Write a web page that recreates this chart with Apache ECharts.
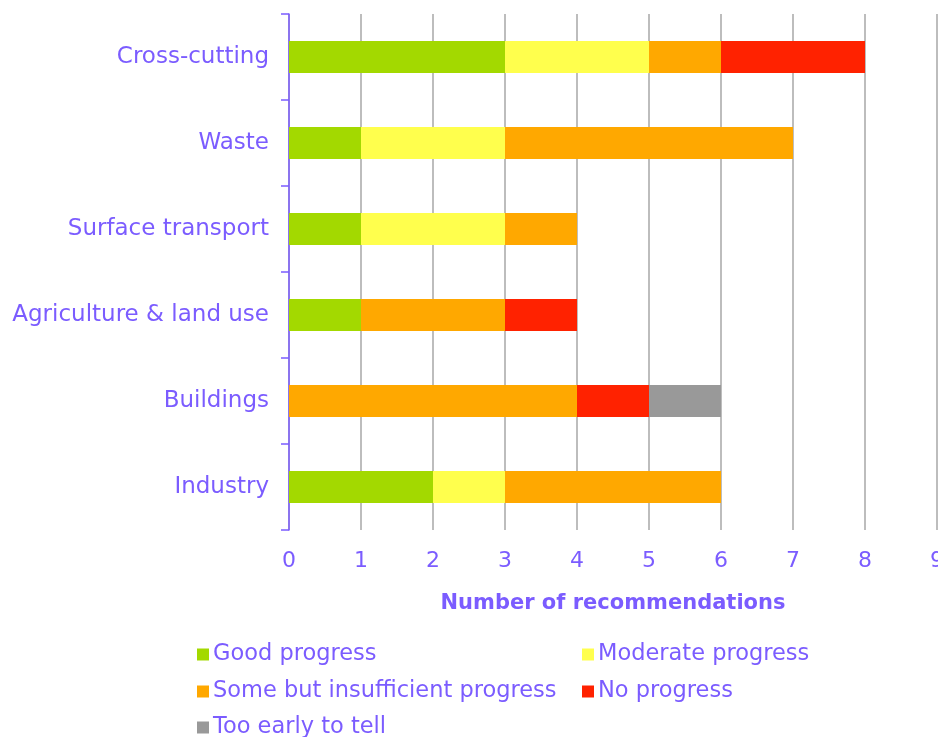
<!DOCTYPE html>
<html>
<head>
<meta charset="utf-8">
<script src="https://cdn.jsdelivr.net/npm/echarts@6/dist/echarts.min.js"></script>
<style>
  html, body { margin: 0; padding: 0; background: #fff; overflow: hidden; }
  #main { width: 938px; height: 737px; }
</style>
</head>
<body>
<div id="main"></div>
<script>
// 分类（从上到下）
const categories = ["Cross-cutting", "Waste", "Surface transport", "Agriculture & land use", "Buildings", "Industry"];
const goodProgress = [3, 1, 1, 1, 0, 2];
const moderateProgress = [2, 2, 2, 0, 0, 1];
const someProgress = [1, 4, 1, 2, 4, 3];
const noProgress = [2, 0, 0, 1, 1, 0];
const tooEarly = [0, 0, 0, 0, 1, 0];
const xTicks = [0, 1, 2, 3, 4, 5, 6, 7, 8, 9];

const purple = "#7B5CFF";
const font = "DejaVu Sans";

const mk = (name, data, color) => ({
  name,
  type: "bar",
  stack: "total",
  barWidth: 32,
  data,
  itemStyle: { color },
  emphasis: { disabled: true }
});

// 图例：每项单独定位，排成两列
const legendItem = (name, left, top) => ({
  left,
  top,
  itemWidth: 12,
  itemHeight: 12,
  icon: "rect",
  textStyle: { color: purple, fontSize: 22.5, padding: [0, 0, 0, -1], fontFamily: font },
  data: [name]
});

const myChart = echarts.init(document.getElementById("main"));
const option = {
  animation: false,
  textStyle: { fontFamily: font },
  grid: { left: 289, right: 1, top: 14, bottom: 207, containLabel: false, outerBoundsMode: "none" },
  xAxis: {
    type: "value",
    min: xTicks[0],
    max: xTicks[xTicks.length - 1],
    interval: 1,
    name: "Number of recommendations",
    nameLocation: "middle",
    nameGap: 63,
    nameTextStyle: { color: purple, fontSize: 21, fontWeight: "bold", fontFamily: font },
    axisLine: { show: false },
    axisTick: { show: false },
    axisLabel: { color: purple, fontSize: 22, margin: 20, fontFamily: font },
    splitLine: { show: true, lineStyle: { color: "#BDBDBD", width: 2 } }
  },
  yAxis: {
    type: "category",
    data: categories,
    inverse: true,
    axisLine: { show: true, lineStyle: { color: purple, width: 1.5 } },
    axisTick: { show: true, length: 8, lineStyle: { color: purple, width: 1.5 } },
    axisLabel: { color: purple, fontSize: 23, margin: 20, fontFamily: font }
  },
  legend: [
    legendItem("Good progress", 192, 638),
    legendItem("Some but insufficient progress", 192, 675),
    legendItem("Too early to tell", 192, 711),
    legendItem("Moderate progress", 577, 638),
    legendItem("No progress", 577, 675)
  ],
  series: [
    mk("Good progress", goodProgress, "#A3D900"),
    mk("Moderate progress", moderateProgress, "#FFFF4D"),
    mk("Some but insufficient progress", someProgress, "#FFA800"),
    mk("No progress", noProgress, "#FF2200"),
    mk("Too early to tell", tooEarly, "#999999")
  ]
};
myChart.setOption(option);
</script>
</body>
</html>
